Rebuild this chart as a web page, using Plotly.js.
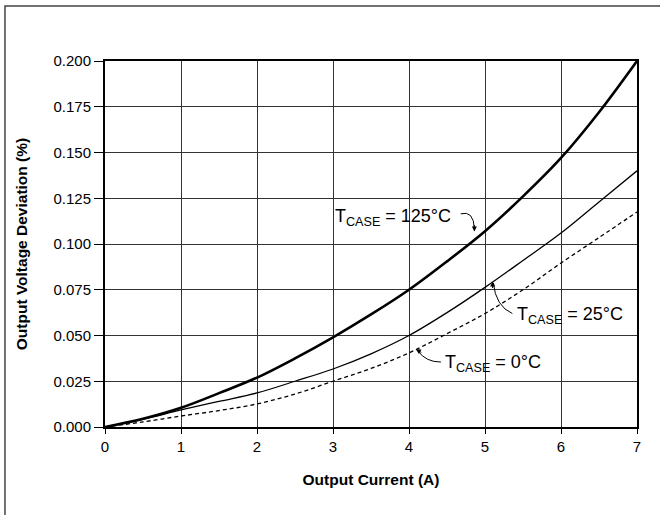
<!DOCTYPE html>
<html>
<head>
<meta charset="utf-8">
<script src="https://cdn.plot.ly/plotly-3.0.1.min.js"></script>
<style>html,body{margin:0;padding:0;background:#fff;}#chart{width:660px;height:515px;}</style>
</head>
<body>
<div id="chart"></div>
<script>
// Data
var current = [0, 0.5, 1, 1.5, 2, 2.5, 3, 3.5, 4, 4.5, 5, 5.5, 6, 6.5, 7];
var dev125 = [0, 0.0045, 0.0105, 0.0185, 0.027, 0.0375, 0.049, 0.0615, 0.075, 0.0905, 0.107, 0.126, 0.147, 0.172, 0.200];
var dev25  = [0, 0.0042, 0.0093, 0.014, 0.0186, 0.025, 0.0317, 0.040, 0.050, 0.0625, 0.0763, 0.091, 0.106, 0.123, 0.140];
var dev0   = [0, 0.0028, 0.006, 0.009, 0.0126, 0.018, 0.025, 0.032, 0.0405, 0.051, 0.062, 0.075, 0.0896, 0.1035, 0.1175];
var xTicks = [0, 1, 2, 3, 4, 5, 6, 7];
var yTicks = [0, 0.025, 0.05, 0.075, 0.1, 0.125, 0.15, 0.175, 0.2];
var labels = ["T<sub>CASE</sub> = 125°C", "T<sub>CASE</sub> = 25°C", "T<sub>CASE</sub> = 0°C"];

var traces = [
  {x: current, y: dev125, mode: 'lines', line: {color: '#000', width: 2.6, shape: 'spline'}, cliponaxis: false, hoverinfo: 'none'},
  {x: current, y: dev25, mode: 'lines', line: {color: '#000', width: 1.3, shape: 'spline'}, cliponaxis: false, hoverinfo: 'none'},
  {x: current, y: dev0, mode: 'lines', line: {color: '#000', width: 1.3, dash: '4px,3px', shape: 'spline'}, cliponaxis: false, hoverinfo: 'none'}
];

var fam = 'Liberation Sans, Arial, sans-serif';
var font = {family: fam, color: '#000'};

var layout = {
  width: 660, height: 515,
  margin: {l: 105, r: 23, t: 61, b: 88},
  paper_bgcolor: '#fff', plot_bgcolor: '#fff',
  showlegend: false,
  font: font,
  xaxis: {
    range: [0, 7], tickvals: xTicks, ticktext: xTicks.map(String),
    showgrid: true, gridcolor: '#333', gridwidth: 1,
    showline: true, linecolor: '#000', linewidth: 2, mirror: true,
    ticks: 'outside', ticklen: 5, tickcolor: '#000', tickwidth: 1,
    zeroline: false, tickfont: {size: 15, family: fam, color: '#000'},
    title: {text: '<b>Output Current (A)</b>', font: {size: 15.5, family: fam, color: '#000'}, standoff: 20}
  },
  yaxis: {
    range: [0, 0.2], tickvals: yTicks, tickformat: '.3f',
    showgrid: true, gridcolor: '#333', gridwidth: 1,
    showline: true, linecolor: '#000', linewidth: 2, mirror: true,
    ticks: 'outside', ticklen: 9, tickcolor: '#000', tickwidth: 1,
    zeroline: false, tickfont: {size: 15, family: fam, color: '#000'},
    title: {text: '<b>Output Voltage Deviation (%)</b>', font: {size: 15.5, family: fam, color: '#000'}, standoff: 22}
  },
  shapes: [
    {type: 'path', xref: 'paper', yref: 'paper', path: 'M -0.188 -0.3 L -0.188 1.150 L 1.2 1.150', line: {color: '#444', width: 1.5}},
    // curved arrow stems
    {type: 'path', xref: 'x', yref: 'y', path: 'M 4.68 0.1165 Q 4.85 0.1185 4.86 0.1085', line: {color: '#000', width: 1}, layer: 'above'},
    {type: 'path', xref: 'x', yref: 'y', path: 'M 5.36 0.0620 Q 5.14 0.066 5.11 0.0787', line: {color: '#000', width: 1}, layer: 'above'},
    {type: 'path', xref: 'x', yref: 'y', path: 'M 4.42 0.0355 Q 4.22 0.0355 4.12 0.0415', line: {color: '#000', width: 1}, layer: 'above'}
  ],
  annotations: [
    {x: 4.58, y: 0.1145, xref: 'x', yref: 'y', text: labels[0], showarrow: false, xanchor: 'right', yanchor: 'middle', font: {size: 18, family: fam, color: '#000'}},
    {x: 5.4, y: 0.0610, xref: 'x', yref: 'y', text: labels[1], showarrow: false, xanchor: 'left', yanchor: 'middle', font: {size: 18, family: fam, color: '#000'}},
    {x: 4.45, y: 0.0345, xref: 'x', yref: 'y', text: labels[2], showarrow: false, xanchor: 'left', yanchor: 'middle', font: {size: 18, family: fam, color: '#000'}},
    // arrowheads
    {x: 4.86, y: 0.1068, xref: 'x', yref: 'y', ax: 0, ay: -8, text: '', showarrow: true, arrowhead: 2, arrowsize: 1, arrowwidth: 1, arrowcolor: '#000'},
    {x: 5.1, y: 0.0795, xref: 'x', yref: 'y', ax: 0, ay: 8, text: '', showarrow: true, arrowhead: 2, arrowsize: 1, arrowwidth: 1, arrowcolor: '#000'},
    {x: 4.09, y: 0.0425, xref: 'x', yref: 'y', ax: 7, ay: 4, text: '', showarrow: true, arrowhead: 2, arrowsize: 1, arrowwidth: 1, arrowcolor: '#000'}
  ]
};

Plotly.newPlot('chart', traces, layout, {displayModeBar: false, staticPlot: true});
</script>
</body>
</html>
